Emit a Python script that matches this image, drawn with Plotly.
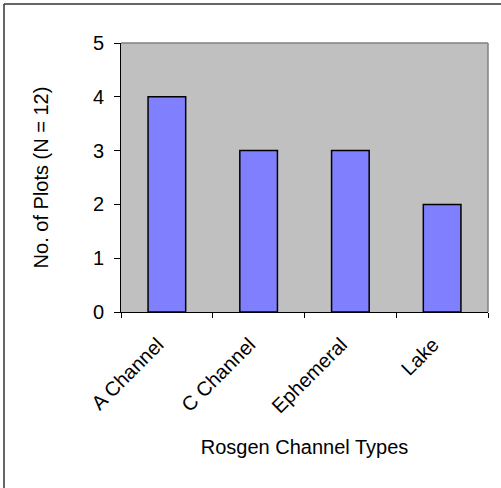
import plotly.graph_objects as go

categories = ['A Channel', 'C Channel', 'Ephemeral', 'Lake']
plots = [4, 3, 3, 2]

fig = go.Figure(go.Bar(
    x=categories,
    y=plots,
    width=0.41,
    marker=dict(color='#8080FF', line=dict(color='black', width=1.5)),
))

font = dict(family='Liberation Sans, Arial', size=20, color='black')

fig.update_layout(
    width=501, height=488,
    margin=dict(l=121, r=13, t=43, b=176),
    plot_bgcolor='#C0C0C0',
    paper_bgcolor='white',
    font=font,
    showlegend=False,
    xaxis=dict(
        title=dict(text='Rosgen Channel Types', font=font, standoff=23),
        tickangle=-45,
        tickson='boundaries',
        ticks='outside', ticklen=5, tickcolor='black',
        ticklabelstandoff=12,
        ticklabelshift=-9,
        showline=True, linecolor='black', linewidth=1,
        showgrid=False,
        tickfont=font,
        automargin=False,
    ),
    yaxis=dict(
        title=dict(text='No. of Plots (N = 12)', font=font, standoff=38),
        range=[0, 5], dtick=1,
        ticks='outside', ticklen=6, tickcolor='black',
        ticklabelstandoff=6,
        showline=True, linecolor='black', linewidth=1,
        showgrid=False,
        zeroline=False,
        tickfont=font,
        automargin=False,
    ),
)

# grey border on top and right of plot area
fig.add_shape(type='line', xref='paper', yref='paper', x0=0, x1=1, y0=1, y1=1,
              line=dict(color='#808080', width=1.5))
fig.add_shape(type='line', xref='paper', yref='paper', x0=1, x1=1, y0=0, y1=1,
              line=dict(color='#808080', width=1.5))

# outer chart frame: only its left and top edges fall inside the image
px_w, px_h = 367, 269
fx0, fx1 = (4 - 121) / px_w, (501 - 121) / px_w
fy0, fy1 = (312 - 488) / px_h, (312 - 4) / px_h
fig.add_shape(type='line', xref='paper', yref='paper', x0=fx0, x1=fx1, y0=fy1, y1=fy1,
              line=dict(color='#333333', width=1.5))
fig.add_shape(type='line', xref='paper', yref='paper', x0=fx0, x1=fx0, y0=fy0, y1=fy1,
              line=dict(color='#333333', width=1.5))

fig.write_html('out.html', config={'displayModeBar': False},
               post_script="document.body.style.margin='0';")
